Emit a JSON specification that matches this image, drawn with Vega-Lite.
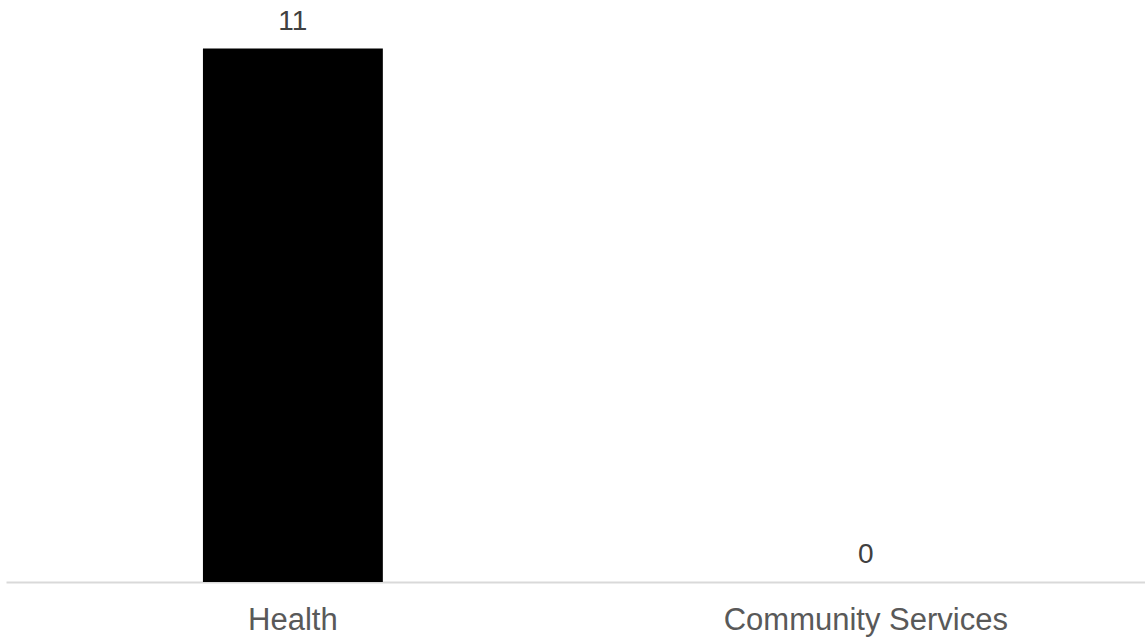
{
  "$schema": "https://vega.github.io/schema/vega-lite/v6.json",
  "width": 1139,
  "height": 582,
  "autosize": {"type": "none"},
  "padding": {"left": 6, "top": 0, "right": 0, "bottom": 58},
  "background": "white",
  "config": {
    "view": {"stroke": null},
    "font": "Liberation Sans"
  },
  "data": {
    "values": [
      {"sector": "Health", "count": 11},
      {"sector": "Community Services", "count": 0}
    ]
  },
  "encoding": {
    "x": {
      "field": "sector",
      "type": "nominal",
      "sort": null,
      "scale": {"paddingInner": 0.686, "paddingOuter": 0.337, "align": 0.51},
      "axis": {
        "title": null,
        "labelAngle": 0,
        "ticks": false,
        "labelPadding": 23,
        "labelFontSize": 31,
        "labelLimit": 0,
        "labelColor": "#595959",
        "labelFont": "Liberation Sans",
        "domainColor": "#d9d9d9",
        "domainWidth": 2,
        "grid": false
      }
    },
    "y": {
      "field": "count",
      "type": "quantitative",
      "scale": {"domain": [0, 12], "nice": false},
      "axis": null
    }
  },
  "layer": [
    {"mark": {"type": "bar", "color": "#000000"}},
    {
      "mark": {
        "type": "text",
        "baseline": "alphabetic",
        "dy": -19,
        "fontSize": 28,
        "color": "#404040",
        "font": "Liberation Sans"
      },
      "encoding": {"text": {"field": "count", "type": "quantitative"}}
    }
  ]
}
